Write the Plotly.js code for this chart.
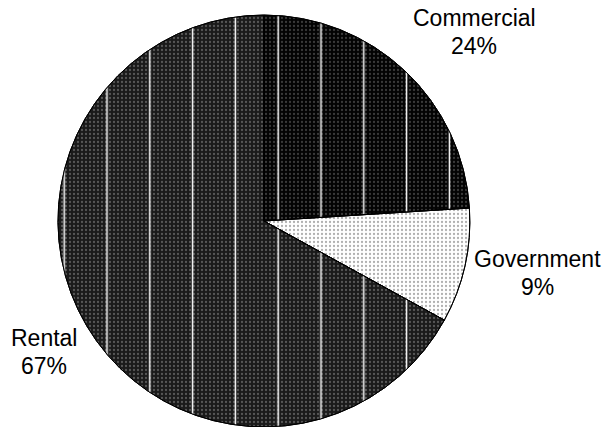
<!DOCTYPE html>
<html>
<head>
<meta charset="utf-8">
<script src="https://cdn.plot.ly/plotly-3.0.1.min.js"></script>
<style>html,body{margin:0;padding:0;background:#fff;}#chart{width:607px;height:427px;}</style>
</head>
<body>
<div id="chart"></div>
<script>
const categories = ["Commercial", "Government", "Rental"];
const shares = [24, 9, 67];

const fillColors = ["#030303", "#ffffff", "#1a1a1a"];
const dotColors = ["#3a3a3a", "#b0b0b0", "#575757"];

const domain = {x: [0.0955, 0.774], y: [0, 0.965]};
const W = 607, H = 427;
// label placement (pixels) for each category: centre x, centre y of name line, centre y of percent line
const labelPos = [[474, 18, 46], [537, 259, 287], [44, 338, 366]];

const base = {
  type: "pie",
  labels: categories,
  values: shares,
  sort: false,
  direction: "clockwise",
  rotation: 0,
  domain: domain,
  textinfo: "none",
  showlegend: false,
  hoverinfo: "label+percent",
  marker: {
    colors: fillColors,
    line: {color: "#000", width: 1},
    pattern: {shape: ".", fgcolor: dotColors, bgcolor: fillColors, size: 4, solidity: 0.25}
  }
};

const overlay = {
  type: "pie",
  labels: categories,
  values: shares,
  sort: false,
  direction: "clockwise",
  rotation: 0,
  domain: domain,
  textinfo: "none",
  showlegend: false,
  hoverinfo: "skip",
  marker: {
    colors: ["rgba(0,0,0,0)", "rgba(0,0,0,0)", "rgba(0,0,0,0)"],
    line: {color: "#000", width: 1},
    pattern: {shape: ["|", "", "|"], fgcolor: "#ffffff", bgcolor: "rgba(0,0,0,0)", size: 42.8, solidity: 0.035}
  }
};

const total = shares.reduce((a, b) => a + b, 0);
const annotations = [];
categories.forEach((c, i) => {
  const [cx, y1, y2] = labelPos[i];
  const pct = Math.round(shares[i] / total * 100) + "%";
  [[c, y1], [pct, y2]].forEach(([t, y]) => annotations.push({
    text: t, xref: "paper", yref: "paper", x: cx / W, y: 1 - y / H,
    xanchor: "center", yanchor: "middle", showarrow: false,
    font: {family: "Liberation Sans, Arial, sans-serif", size: 23, color: "#000"}
  }));
});

Plotly.newPlot("chart", [base, overlay], {
  width: W, height: H,
  margin: {l: 0, r: 0, t: 0, b: 0},
  paper_bgcolor: "#fff",
  annotations: annotations,
  font: {family: "Liberation Sans, Arial, sans-serif", size: 23, color: "#000"}
}, {staticPlot: true});
</script>
</body>
</html>
